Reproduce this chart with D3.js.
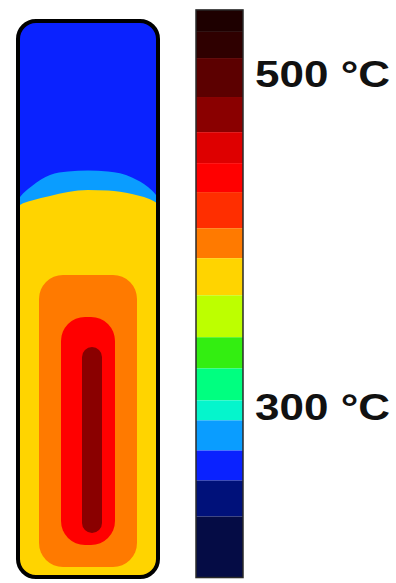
<!DOCTYPE html>
<html>
<head>
<meta charset="utf-8">
<script src="https://cdn.jsdelivr.net/npm/d3@7"></script>
<style>
  html, body { margin: 0; padding: 0; background: #fff; }
  svg { display: block; }
</style>
</head>
<body>
<div id="chart"></div>
<script>
// colour bar: band edges in °C (top to bottom) and colours of each band
var bandEdges = [538.3, 525.1, 509.4, 486.0, 464.9, 446.3, 428.9, 407.2, 389.2, 366.9,
                 341.7, 323.0, 303.8, 291.8, 273.7, 255.7, 234.0, 197.4];
var bandColors = ["#1e0000", "#2f0000", "#5c0000", "#8a0000", "#de0000", "#ff0000",
                  "#ff2e00", "#ff7a00", "#ffd400", "#bdff00", "#33ee11", "#00ff80",
                  "#05f5cc", "#0a9dff", "#0a22ff", "#00117a", "#050c45"];
var tickTemps = [500, 300];
var tickLabels = ["500 °C", "300 °C"];

// vessel cross-section (mm): gas / film / liquid interface profile
var profileX = [0, 1, 4, 8.5, 13, 18, 23, 29, 33, 35, 36];
var filmTop = [94, 95.5, 98.25, 101, 101.9, 102.1, 101.9, 100.4, 98, 96, 94.5];
var liquidTop = [92.75, 93.5, 94.6, 95.75, 96.75, 97.25, 97.1, 96.25, 95.1, 94.1, 93.25];
var gasTemp = 265, filmTemp = 283, liquidTemp = 378;

// hot zones inside the liquid (mm, °C)
var zoneTemps = [398, 437, 475];
var zoneX0 = [5.75, 11.25, 16.5];
var zoneX1 = [30.25, 24.75, 21.5];
var zoneY0 = [3, 8.5, 11.5];
var zoneY1 = [76, 65.5, 58];

var width = 396, height = 583;

var svg = d3.select("#chart").append("svg")
    .attr("width", width)
    .attr("height", height);

/*
SCALES
*/
var tempScale = d3.scaleLinear().domain([300, 500]).range([406.7, 73.7]);

var colorOf = d3.scaleThreshold()
    .domain(bandEdges.slice(1, -1).reverse())
    .range(bandColors.slice().reverse());

var xV = d3.scaleLinear().domain([0, 36]).range([16, 160]);
var yV = d3.scaleLinear().domain([0, 140]).range([579, 19]);

/*
VESSEL
*/
var stroke = 4;
var vx = xV(0) + stroke / 2, vy = yV(140) + stroke / 2;
var vw = xV(36) - xV(0) - stroke, vh = yV(0) - yV(140) - stroke;

svg.append("clipPath").attr("id", "vessel")
    .append("rect")
    .attr("x", vx).attr("y", vy)
    .attr("width", vw).attr("height", vh)
    .attr("rx", 18);

var vessel = svg.append("g").attr("clip-path", "url(#vessel)");

vessel.append("rect")
    .attr("x", vx).attr("y", vy)
    .attr("width", vw).attr("height", vh)
    .attr("fill", colorOf(gasTemp));

var area = function(tops) {
    return d3.area()
        .x(function(d, i) { return xV(profileX[i]); })
        .y0(yV(0))
        .y1(function(d) { return yV(d); })
        .curve(d3.curveMonotoneX)(tops);
};

vessel.append("path").attr("d", area(filmTop)).attr("fill", colorOf(filmTemp));
vessel.append("path").attr("d", area(liquidTop)).attr("fill", colorOf(liquidTemp));

vessel.selectAll(".zone")
    .data(zoneTemps)
    .enter()
    .append("rect")
    .attr("class", "zone")
    .attr("x", function(d, i) { return xV(zoneX0[i]); })
    .attr("y", function(d, i) { return yV(zoneY1[i]); })
    .attr("width", function(d, i) { return xV(zoneX1[i]) - xV(zoneX0[i]); })
    .attr("height", function(d, i) { return yV(zoneY0[i]) - yV(zoneY1[i]); })
    .attr("rx", function(d, i) { return Math.min(24, (xV(zoneX1[i]) - xV(zoneX0[i])) / 2); })
    .attr("fill", function(d) { return colorOf(d); });

svg.append("rect")
    .attr("x", vx).attr("y", vy)
    .attr("width", vw).attr("height", vh)
    .attr("rx", 18)
    .attr("fill", "none")
    .attr("stroke", "#000")
    .attr("stroke-width", stroke);

/*
COLOUR BAR
*/
var barX = 196, barW = 47;

svg.selectAll(".band")
    .data(bandColors)
    .enter()
    .append("rect")
    .attr("class", "band")
    .attr("x", barX)
    .attr("y", function(d, i) { return tempScale(bandEdges[i]); })
    .attr("width", barW)
    .attr("height", function(d, i) { return tempScale(bandEdges[i + 1]) - tempScale(bandEdges[i]); })
    .attr("fill", function(d) { return d; });

svg.append("rect")
    .attr("x", barX).attr("y", tempScale(bandEdges[0]))
    .attr("width", barW)
    .attr("height", tempScale(bandEdges[bandEdges.length - 1]) - tempScale(bandEdges[0]))
    .attr("fill", "none")
    .attr("stroke", "#2a2a2a")
    .attr("stroke-width", 1.5);

svg.selectAll(".tick-label")
    .data(tickTemps)
    .enter()
    .append("text")
    .attr("class", "tick-label")
    .attr("x", 255)
    .attr("y", function(d) { return tempScale(d); })
    .attr("dy", "0.36em")
    .attr("font-family", "'Liberation Sans', Arial, sans-serif")
    .attr("font-weight", "bold")
    .attr("font-size", 36)
    .attr("textLength", 135)
    .attr("lengthAdjust", "spacingAndGlyphs")
    .attr("fill", "#111")
    .text(function(d, i) { return tickLabels[i]; });
</script>
</body>
</html>
